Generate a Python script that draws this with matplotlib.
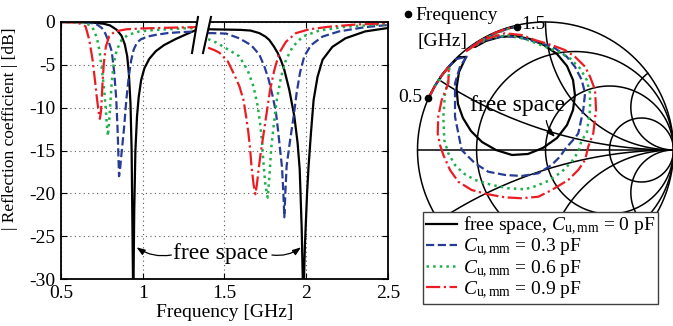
import numpy as np
import matplotlib
matplotlib.use('Agg')
import matplotlib.pyplot as plt
from matplotlib.lines import Line2D
from matplotlib.patches import Polygon

plt.rcParams['font.family'] = ['Liberation Serif', 'DejaVu Serif']
plt.rcParams['mathtext.fontset'] = 'custom'
plt.rcParams['mathtext.rm'] = 'Liberation Serif'
plt.rcParams['mathtext.it'] = 'Liberation Serif:italic'
plt.rcParams['axes.unicode_minus'] = False

# ---------------- data: reflection coefficient (dB) ----------------
# low band
f_fs_lo = [0.50, 0.60, 0.70, 0.76, 0.80, 0.84, 0.87, 0.89, 0.905, 0.915, 0.925, 0.932, 0.938, 0.942,
           0.948, 0.955, 0.965, 0.975, 0.99, 1.01, 1.04, 1.08, 1.13, 1.20, 1.27, 1.33]
s_fs_lo = [0, -0.02, -0.08, -0.2, -0.4, -0.9, -1.6, -2.6, -4.0, -6.0, -9.5, -15, -26, -33,
           -22, -15, -11, -8.8, -6.8, -5.4, -4.3, -3.4, -2.7, -2.0, -1.4, -0.9]
f_c3_lo = [0.50, 0.60, 0.68, 0.72, 0.75, 0.77, 0.79, 0.81, 0.825, 0.838, 0.846, 0.851, 0.855, 0.862,
           0.872, 0.885, 0.90, 0.915, 0.93, 0.945, 0.965, 0.99, 1.03, 1.08, 1.15, 1.22, 1.33]
s_c3_lo = [0, -0.02, -0.1, -0.3, -0.7, -1.3, -2.2, -3.4, -5.8, -9, -12.5, -15.5, -18, -17,
           -15, -12.5, -9, -6.3, -4.4, -3.2, -2.4, -2.0, -1.7, -1.5, -1.3, -1.2, -1.1]
f_c6_lo = [0.50, 0.60, 0.65, 0.68, 0.70, 0.72, 0.735, 0.748, 0.762, 0.774, 0.782, 0.787, 0.793, 0.80,
           0.81, 0.823, 0.84, 0.87, 0.91, 0.98, 1.06, 1.15, 1.24, 1.33]
s_c6_lo = [0, -0.03, -0.15, -0.4, -0.9, -1.9, -3.3, -5.2, -7.5, -10.2, -12.4, -13.3, -12, -10.0,
           -7.1, -4.8, -3.3, -2.1, -1.5, -1.1, -0.95, -0.85, -0.75, -0.7]
f_c9_lo = [0.50, 0.58, 0.62, 0.65, 0.673, 0.693, 0.707, 0.721, 0.731, 0.738, 0.744, 0.749, 0.754,
           0.762, 0.774, 0.794, 0.829, 0.90, 1.0, 1.1, 1.2, 1.33]
s_c9_lo = [0, -0.05, -0.2, -0.5, -2.1, -4.4, -6.7, -9.1, -10.6, -11.3, -10.5, -9.0, -7.1,
           -4.8, -2.9, -1.7, -1.1, -0.85, -0.75, -0.7, -0.65, -0.6]
# high band
f_fs_hi = [1.40, 1.50, 1.60, 1.66, 1.713, 1.75, 1.774, 1.80, 1.825, 1.846, 1.866, 1.896, 1.927, 1.947,
           1.96, 1.972, 1.982, 1.992, 2.005, 2.014, 2.029, 2.045, 2.069, 2.10, 2.16, 2.24, 2.36, 2.50]
s_fs_hi = [-0.85, -0.88, -0.92, -1.0, -1.3, -1.7, -2.1, -2.8, -3.6, -4.5, -5.6, -7.9, -11, -14.1,
           -17.2, -24, -33, -26, -20, -16.9, -12.9, -9.1, -6.4, -4.4, -2.9, -1.9, -1.1, -0.7]
f_c3_hi = [1.40, 1.43, 1.51, 1.59, 1.663, 1.713, 1.744, 1.77, 1.795, 1.815, 1.829, 1.84, 1.852, 1.86,
           1.866, 1.872, 1.88, 1.89, 1.902, 1.923, 1.941, 1.962, 1.988, 2.029, 2.10, 2.20, 2.36, 2.50]
s_c3_hi = [-1.3, -1.3, -1.35, -1.9, -2.7, -3.8, -5.2, -6.7, -8.7, -10.6, -12.9, -14.9, -17, -20,
           -22.8, -20, -16.8, -15.4, -13.7, -11, -8.3, -5.9, -4.0, -2.7, -1.7, -1.1, -0.6, -0.35]
f_c6_hi = [1.40, 1.45, 1.53, 1.59, 1.641, 1.677, 1.703, 1.72, 1.73, 1.738, 1.75, 1.764, 1.775, 1.785,
           1.80, 1.82, 1.846, 1.876, 1.917, 1.978, 2.079, 2.24, 2.50]
s_c6_hi = [-2.0, -2.4, -3.3, -4.0, -5.6, -7.5, -9.8, -12.2, -14.1, -16.4, -19, -20.5, -18, -14.9,
           -12.2, -9.1, -6.4, -4.4, -2.9, -1.7, -1.0, -0.55, -0.23]
f_c9_hi = [1.40, 1.44, 1.47, 1.52, 1.561, 1.591, 1.616, 1.632, 1.646, 1.657, 1.665, 1.678, 1.689,
           1.698, 1.71, 1.72, 1.734, 1.758, 1.779, 1.805, 1.835, 1.876, 1.937, 2.018, 2.14, 2.30, 2.50]
s_c9_hi = [-3.0, -3.3, -3.6, -4.6, -6.2, -7.5, -9.1, -11, -12.9, -14.9, -16.8, -19, -20.1,
           -19, -17, -15.5, -13.7, -10.6, -7.9, -5.6, -3.6, -2.3, -1.3, -0.85, -0.55, -0.3, -0.15]

# ---------------- data: Smith chart trajectories (Gamma re, im), 0.5 -> 1.5 GHz ----------------
g_fs_re = [-0.914, -0.866, -0.809, -0.75, -0.68, -0.621, -0.676, -0.695, -0.684, -0.645, -0.582, -0.496,
           -0.387, -0.262, -0.137, -0.020, 0.090, 0.168, 0.215, 0.230, 0.215, 0.168, 0.090, -0.012,
           -0.121, -0.238, -0.355, -0.465, -0.551, -0.48, -0.40, -0.31, -0.225]
g_fs_im = [0.404, 0.497, 0.585, 0.655, 0.725, 0.727, 0.609, 0.484, 0.359, 0.25, 0.148, 0.0625,
           0.0, -0.039, -0.031, 0.016, 0.094, 0.195, 0.3125, 0.430, 0.547, 0.656, 0.75, 0.820,
           0.867, 0.891, 0.883, 0.852, 0.805, 0.87, 0.91, 0.945, 0.965]
g_c3_re = [-0.914, -0.866, -0.809, -0.755, -0.70, -0.616, -0.668, -0.707, -0.707, -0.707, -0.681, -0.655,
           -0.629, -0.551, -0.447, -0.316, -0.186, -0.056, 0.048, 0.113, 0.160, 0.230, 0.256, 0.295,
           0.309, 0.283, 0.230, 0.166, 0.074, -0.030, -0.186, -0.316, -0.473, -0.590, -0.52, -0.42,
           -0.31, -0.225]
g_c3_im = [0.404, 0.497, 0.585, 0.652, 0.71, 0.729, 0.651, 0.521, 0.391, 0.260, 0.130, 0.0,
           -0.026, -0.104, -0.170, -0.195, -0.203, -0.182, -0.117, -0.052, 0.016, 0.094, 0.130, 0.3125,
           0.443, 0.547, 0.651, 0.729, 0.795, 0.834, 0.875, 0.891, 0.859, 0.797, 0.845, 0.898,
           0.942, 0.965]
g_c6_re = [-0.914, -0.866, -0.809, -0.75, -0.759, -0.785, -0.798, -0.791, -0.759, -0.707, -0.642, -0.551,
           -0.420, -0.291, -0.160, -0.074, 0.020, 0.127, 0.205, 0.256, 0.283, 0.322, 0.348, 0.348,
           0.322, 0.270, 0.191, 0.100, -0.004, -0.137, -0.277, -0.434, -0.574, -0.51, -0.41, -0.31,
           -0.225]
g_c6_im = [0.404, 0.497, 0.585, 0.655, 0.547, 0.443, 0.260, 0.078, -0.026, -0.117, -0.182, -0.234,
           -0.273, -0.299, -0.307, -0.281, -0.242, -0.170, -0.091, -0.013, 0.078, 0.130, 0.3125, 0.443,
           0.547, 0.638, 0.716, 0.768, 0.807, 0.859, 0.898, 0.875, 0.805, 0.85, 0.90, 0.942,
           0.965]
g_c9_re = [-0.914, -0.866, -0.809, -0.755, -0.759, -0.811, -0.838, -0.842, -0.824, -0.798, -0.746, -0.681,
           -0.577, -0.459, -0.316, -0.186, -0.056, 0.048, 0.178, 0.256, 0.309, 0.334, 0.373, 0.395,
           0.387, 0.348, 0.309, 0.230, 0.152, 0.048, -0.082, -0.186, -0.316, -0.447, -0.525, -0.629,
           -0.50, -0.407, -0.309, -0.225]
g_c9_im = [0.404, 0.497, 0.585, 0.652, 0.521, 0.391, 0.260, 0.130, 0.039, -0.039, -0.156, -0.248,
           -0.3125, -0.344, -0.370, -0.377, -0.365, -0.3125, -0.234, -0.156, -0.078, 0.026, 0.130, 0.3125,
           0.469, 0.573, 0.651, 0.729, 0.781, 0.820, 0.859, 0.898, 0.912, 0.873, 0.834, 0.766,
           0.86, 0.91, 0.947, 0.965]
marker_freq_labels = ['0.5', '1.5']
marker_re = [-0.916, -0.225]
marker_im = [0.404, 0.963]

smith_r = [0.3, 1.0, 3.0]
smith_x = [0.3, 1.0, 3.0]

labels = [r'free space, $C_{\mathrm{u,mm}}$ = 0 pF',
          r'$C_{\mathrm{u,mm}}$ = 0.3 pF',
          r'$C_{\mathrm{u,mm}}$ = 0.6 pF',
          r'$C_{\mathrm{u,mm}}$ = 0.9 pF']

# ---------------- figure ----------------
W, H = 673, 326
fig = plt.figure(figsize=(W / 100, H / 100), dpi=100)

def fx(px):
    return px / W

def fy(py):
    return 1 - py / H

ax = fig.add_axes([fx(61), fy(279), (388 - 61) / W, (279 - 22) / H])
col_k, col_b, col_g, col_r = 'black', '#283c96', '#1fb04a', '#ec1c24'
lw = 1.6
styles = [dict(color=col_k, ls='-', lw=lw),
          dict(color=col_b, ls='--', lw=lw),
          dict(color=col_g, ls=':', lw=lw + 0.2),
          dict(color=col_r, ls='-.', lw=lw)]
lo = [(f_fs_lo, s_fs_lo), (f_c3_lo, s_c3_lo), (f_c6_lo, s_c6_lo), (f_c9_lo, s_c9_lo)]
hi = [(f_fs_hi, s_fs_hi), (f_c3_hi, s_c3_hi), (f_c6_hi, s_c6_hi), (f_c9_hi, s_c9_hi)]
handles = []
for (fl, sl), (fh, sh), st in zip(lo, hi, styles):
    h, = ax.plot(fl, sl, **st)
    ax.plot(fh, sh, **st)
    handles.append(h)

ax.set_xlim(0.5, 2.5)
ax.set_ylim(-30, 0)
ax.set_xticks([0.5, 1, 1.5, 2, 2.5])
ax.set_xticklabels(['0.5', '1', '1.5', '2', '2.5'])
ax.set_yticks([-30, -25, -20, -15, -10, -5, 0])
ax.grid(True, linestyle=(0, (1, 3)), color='0.35', linewidth=0.8)
ax.tick_params(direction='in', top=True, right=True, length=4, width=0.8, labelsize=14, pad=4)
for sp in ax.spines.values():
    sp.set_linewidth(1.3)
ax.set_xlabel('Frequency [GHz]', fontsize=14, labelpad=2)
ax.set_ylabel('| Reflection coefficient | [dB]', fontsize=12.5)
ax.yaxis.set_label_coords((18 - 61) / 327, (279 - 129) / 257)

# axis break marks
gap = Polygon([[fx(197.5), fy(17)], [fx(211), fy(17)], [fx(203), fy(53)], [fx(192.5), fy(53)]],
              closed=True, transform=fig.transFigure, facecolor='white', edgecolor='none', zorder=10)
fig.add_artist(gap)
for (x0, y0, x1, y1) in [(198, 17, 192, 53), (211, 17, 203, 53)]:
    fig.add_artist(Line2D([fx(x0), fx(x1)], [fy(y0), fy(y1)], transform=fig.transFigure,
                          color='black', lw=1.5, zorder=11))

ax.text(1.473, -27.0, 'free space', fontsize=17, ha='center', va='center')
akw = dict(arrowstyle='-|>,head_length=0.5,head_width=0.18', color='black', lw=0.9,
           shrinkA=0, shrinkB=0)
ax.annotate('', xy=(0.962, -26.3), xytext=(1.175, -27.2),
            arrowprops=dict(connectionstyle='arc3,rad=-0.2', **akw))
ax.annotate('', xy=(1.968, -26.3), xytext=(1.79, -27.2),
            arrowprops=dict(connectionstyle='arc3,rad=0.2', **akw))

# ---------------- Smith chart ----------------
sax = fig.add_axes([fx(417.5), fy(278), 256 / W, 256 / H])
sax.set_xlim(-1, 1)
sax.set_ylim(-1, 1)
sax.axis('off')
gkw = dict(color='black', lw=1.1, zorder=1, clip_on=False)
t = np.linspace(0, 2 * np.pi, 721)
sax.plot(np.cos(t), np.sin(t), **gkw)
sax.plot([-1, 1], [0, 0], **gkw)
for r in smith_r:
    c, rad = r / (1 + r), 1 / (1 + r)
    sax.plot(c + rad * np.cos(t), rad * np.sin(t), **gkw)
for xv in smith_x:
    for sgn in (1, -1):
        cy, rad = sgn / xv, 1 / xv
        px = 1 + rad * np.cos(t)
        py = cy + rad * np.sin(t)
        m = px ** 2 + py ** 2 <= 1.0001
        px = np.where(m, px, np.nan)
        py = np.where(m, py, np.nan)
        sax.plot(px, py, **gkw)

smith = [(g_fs_re, g_fs_im), (g_c3_re, g_c3_im), (g_c6_re, g_c6_im), (g_c9_re, g_c9_im)]
for (gr, gi), st in zip(smith, styles):
    sax.plot(gr, gi, zorder=3, clip_on=False, **st)
sax.plot(marker_re, marker_im, 'o', color='black', ms=4.5, zorder=5, clip_on=False)
sax.text(-0.965, 0.414, marker_freq_labels[0], fontsize=14, ha='right', va='center')
sax.text(-0.19, 0.984, marker_freq_labels[1], fontsize=14, ha='left', va='center')
sax.plot([-1.074], [1.0625], 'o', color='black', ms=4.5, clip_on=False)
sax.text(-1.015, 1.05, 'Frequency', fontsize=14, ha='left', va='center')
sax.text(-1.0, 0.85, '[GHz]', fontsize=14, ha='left', va='center')
sax.text(-0.215, 0.35, 'free space', fontsize=17, ha='center', va='center', zorder=6)
sax.annotate('', xy=(0.074, 0.102), xytext=(0.006, 0.23),
             arrowprops=dict(connectionstyle='arc3,rad=0.15', **akw))

leg = fig.legend(handles, labels, loc='upper left', bbox_to_anchor=(fx(423), fy(212)),
                 fontsize=14, frameon=True, fancybox=False, edgecolor='0.25', framealpha=1,
                 borderaxespad=0, borderpad=0.15, handlelength=1.6, handletextpad=0.3,
                 labelspacing=0.0)
leg.get_frame().set_linewidth(1.0)
leg.set_zorder(20)

fig.savefig('out.png', dpi=100)
